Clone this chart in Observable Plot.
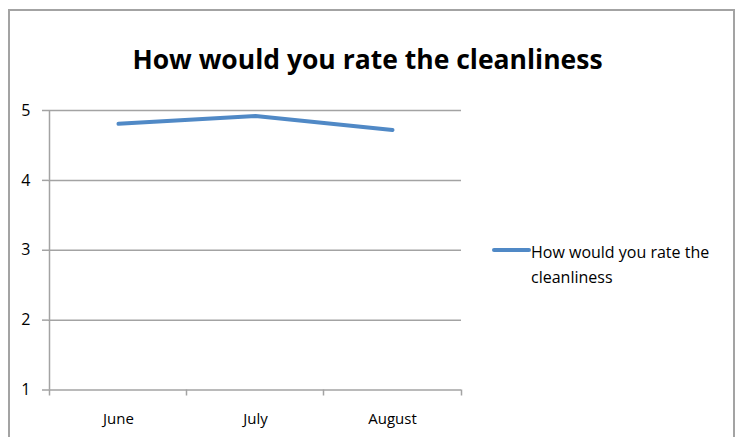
<!DOCTYPE html>
<html>
<head>
<meta charset="utf-8">
<script src="https://cdn.jsdelivr.net/npm/d3@7"></script>
<script src="https://cdn.jsdelivr.net/npm/@observablehq/plot@0.6"></script>
<style>
  html, body { margin: 0; padding: 0; background: #fff; }
  #wrap { position: relative; width: 742px; height: 437px; overflow: hidden; font-family: "Open Sans", Lato, sans-serif; }
  #border { position: absolute; left: 8px; top: 9px; width: 723px; height: 440px; border: 2px solid #a3a3a3; border-bottom: none; }
  #title { position: absolute; left: 4px; width: 727px; top: 42px; text-align: center; font-weight: bold; font-size: 26.5px; line-height: 34px; color: #000; white-space: nowrap; }
  #chart { position: absolute; left: 0; top: 0; }
  #chart svg text { font-size: 15px; }
  #chart svg g[aria-label="y-axis tick label"] text { font-size: 16px; }
  #legend { position: absolute; left: 492px; top: 240px; width: 215px; }
  #legend .sw { position: absolute; left: 0; top: 8px; width: 39px; height: 4px; border-radius: 2px; }
  #legend .tx { position: absolute; left: 39px; top: 0; width: 195px; font-size: 16px; line-height: 25px; color: #000; }
</style>
</head>
<body>
<div id="wrap">
  <div id="border"></div>
  <div id="chart"></div>
  <div id="title"></div>
  <div id="legend"><div class="sw"></div><div class="tx"></div></div>
</div>
<script>
const months = ["June", "July", "August"];
const ratings = [4.81, 4.92, 4.72];
const yTicks = [1, 2, 3, 4, 5];
const seriesName = "How would you rate the cleanliness";
const titleText = "How would you rate the cleanliness";
const lineColor = "#5089C6";
const gridColor = "#a3a3a3";

const data = months.map((m, i) => ({month: m, rating: ratings[i]}));

document.getElementById("title").textContent = titleText;
document.querySelector("#legend .tx").textContent = seriesName;
document.querySelector("#legend .sw").style.background = lineColor;

const chart = Plot.plot({
  width: 742,
  height: 437,
  marginLeft: 48,
  marginRight: 281,
  marginTop: 110,
  marginBottom: 47.5,
  x: {type: "point", domain: months, padding: 0.5},
  y: {domain: [1, 5]},
  style: {fontFamily: "'Open Sans', Lato, sans-serif", fontSize: "15px", color: "#000", background: "transparent", overflow: "visible"},
  marks: [
    Plot.gridY(yTicks, {stroke: gridColor, strokeOpacity: 1, strokeWidth: 1.5}),
    Plot.ruleX([months[0]], {dx: -69, stroke: gridColor, strokeWidth: 1.5}),
    Plot.axisY(yTicks, {tickSize: 6, tickPadding: 12, tickFormat: d3.format("d"), stroke: gridColor, strokeWidth: 1.5, fill: "#000", label: null}),
    Plot.axisX(months, {tickSize: 6, dx: -69, tickFormat: () => "", stroke: gridColor, strokeWidth: 1.5, label: null}),
    Plot.axisX([months[2]], {tickSize: 6, dx: 69, tickFormat: () => "", stroke: gridColor, strokeWidth: 1.5, label: null}),
    Plot.axisX(months, {tickSize: 0, tickPadding: 23, fill: "#000", label: null}),
    Plot.line(data, {x: "month", y: "rating", stroke: lineColor, strokeWidth: 4, strokeLinecap: "round", strokeLinejoin: "round"})
  ]
});
document.getElementById("chart").appendChild(chart);
</script>
</body>
</html>
